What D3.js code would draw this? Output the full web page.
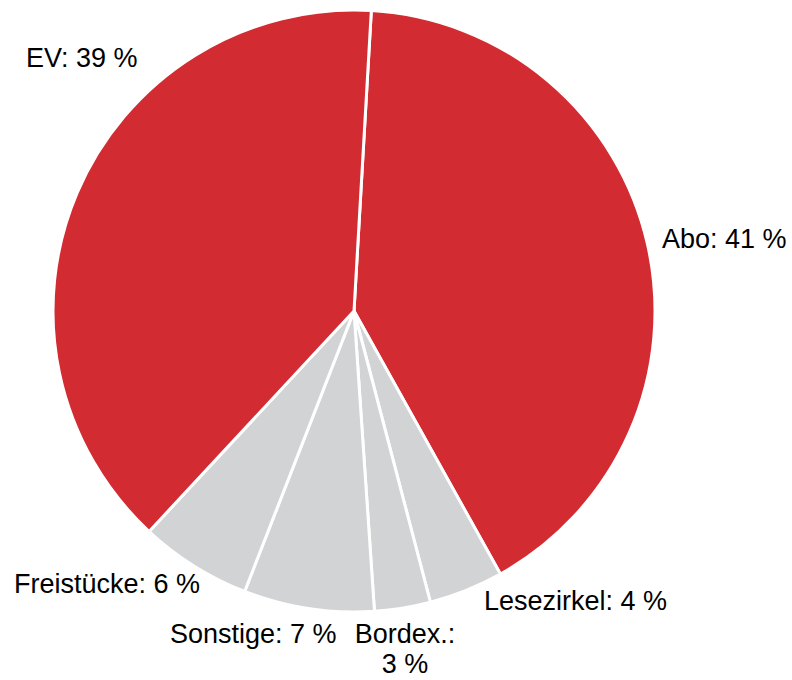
<!DOCTYPE html>
<html>
<head>
<meta charset="utf-8">
<script src="https://cdn.jsdelivr.net/npm/d3@7"></script>
<style>
  html, body { margin: 0; padding: 0; background: #fff; }
  svg { display: block; }
  text { font-family: "Liberation Sans", Arial, sans-serif; font-size: 27px; fill: #000; }
</style>
</head>
<body>
<svg id="chart" width="792" height="680"></svg>
<script>
// Sales channel shares (percent), clockwise from the top
const categories = ["Abo", "Lesezirkel", "Bordex.", "Sonstige", "Freistücke", "EV"];
const shares = [41, 4, 3, 7, 6, 39];
const labelTexts = [["Abo: 41 %"], ["Lesezirkel: 4 %"], ["Bordex.:", "3 %"], ["Sonstige: 7 %"], ["Freistücke: 6 %"], ["EV: 39 %"]];

// Label placement around the pie
const labelLayout = {
  "Abo":        { x: 662, y: 248, anchor: "start" },
  "Lesezirkel": { x: 484, y: 610, anchor: "start" },
  "Bordex.":    { x: 405, y: 643, anchor: "middle" },
  "Sonstige":   { x: 170, y: 643, anchor: "start" },
  "Freistücke": { x: 14,  y: 593, anchor: "start" },
  "EV":         { x: 26,  y: 67,  anchor: "start" }
};

const cx = 354, cy = 311, radius = 301;
const startOffset = 3.3 * Math.PI / 180;

const color = d3.scaleOrdinal()
  .domain(categories)
  .range(["#d22b31", "#d1d3d4", "#d1d3d4", "#d1d3d4", "#d1d3d4", "#d22b31"]);

const data = categories.map((c, i) => ({ name: c, value: shares[i], lines: labelTexts[i] }));

const pie = d3.pie()
  .value(d => d.value)
  .sort(null)
  .startAngle(startOffset)
  .endAngle(startOffset + 2 * Math.PI);

const arc = d3.arc().innerRadius(0).outerRadius(radius);

const svg = d3.select("#chart");
const g = svg.append("g").attr("transform", `translate(${cx},${cy})`);

g.selectAll("path.slice")
  .data(pie(data))
  .join("path")
  .attr("class", "slice")
  .attr("d", arc)
  .attr("fill", d => color(d.data.name))
  .attr("stroke", "#fff")
  .attr("stroke-width", 3)
  .attr("stroke-linejoin", "round");

const labels = svg.selectAll("text.label")
  .data(data)
  .join("text")
  .attr("class", "label")
  .attr("x", d => labelLayout[d.name].x)
  .attr("y", d => labelLayout[d.name].y)
  .attr("text-anchor", d => labelLayout[d.name].anchor);

labels.selectAll("tspan")
  .data(d => d.lines.map((t, i) => ({ t, i, x: labelLayout[d.name].x })))
  .join("tspan")
  .attr("x", d => d.x)
  .attr("dy", d => d.i === 0 ? 0 : 30)
  .text(d => d.t);
</script>
</body>
</html>
